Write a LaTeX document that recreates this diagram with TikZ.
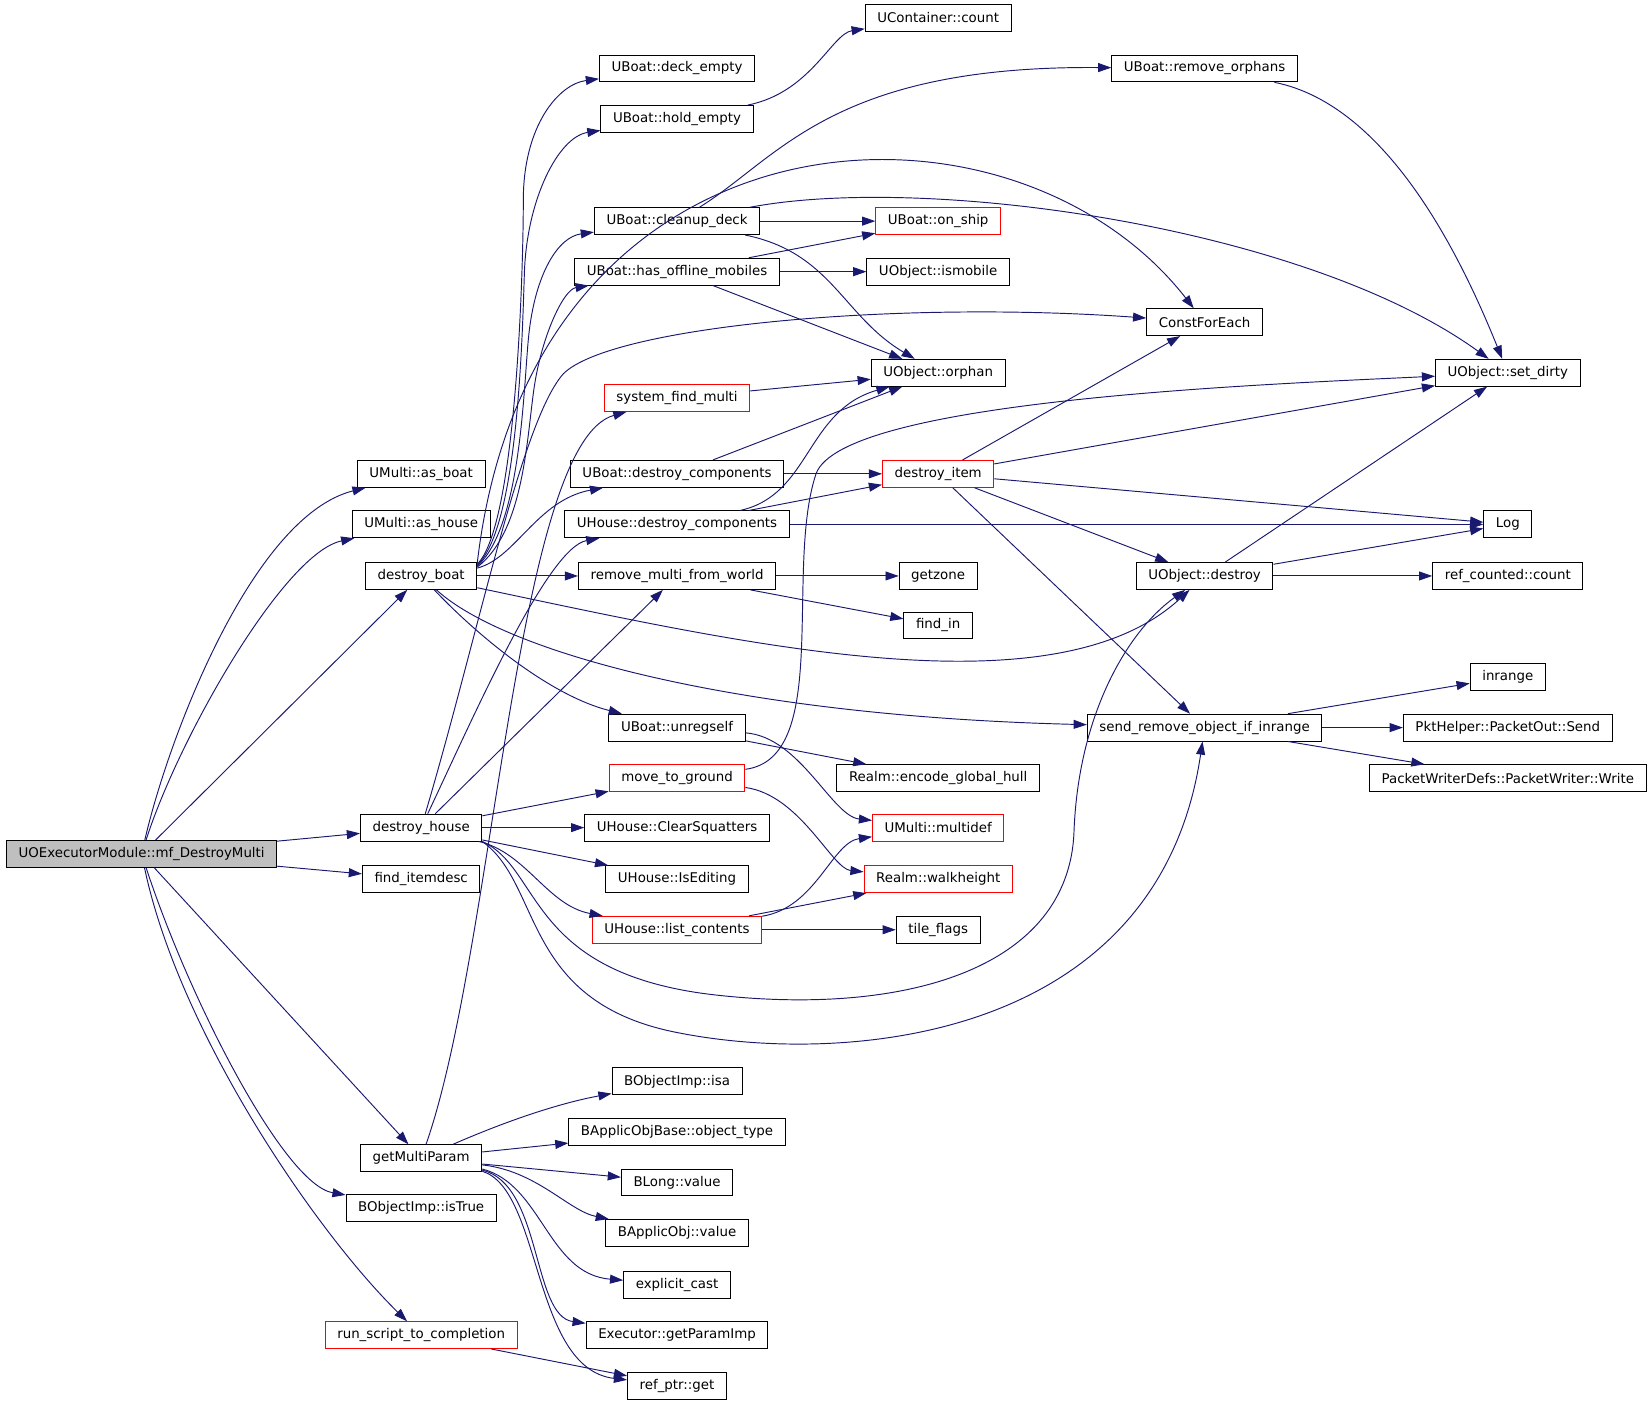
\documentclass[tikz,border=0pt]{standalone}
\usepackage{fontspec}
\setmainfont{DejaVu Sans}
\usetikzlibrary{arrows.meta}

\definecolor{callblue}{HTML}{191970}
\definecolor{rootgray}{HTML}{BFBFBF}

\tikzset{
	fn/.style={draw=black, line width=0.9pt, rectangle, inner xsep=11.5pt, inner ysep=0pt,
		minimum height=25.5pt, font=\fontsize{12.7}{15}\selectfont},
	fnred/.style={fn, draw=red},
	fnroot/.style={fn, fill=rootgray},
	call/.style={color=callblue, line width=0.9pt, -{Triangle[length=12.5pt,width=8.5pt]}},
}

\begin{document}
\begin{tikzpicture}[x=1pt,y=-1pt]
		\useasboundingbox (0,0) rectangle (1568,1334);

		\node[fnroot] (main) at (134.5,811) {UOExecutorModule::mf\_DestroyMulti};

		\node[fn] (asboat) at (400,450) {UMulti::as\_boat};
		\node[fn] (ashouse) at (400,498) {UMulti::as\_house};
		\node[fn] (dboat) at (400,547) {destroy\_boat};
		\node[fn] (dhouse) at (400,786) {destroy\_house};
		\node[fn] (itemdesc) at (400,835) {find\_itemdesc};
		\node[fn] (getparam) at (400,1100) {getMultiParam};
		\node[fn] (istrue) at (400,1147) {BObjectImp::isTrue};
		\node[fnred] (runscript) at (400,1268) {run\_script\_to\_completion};

		\node[fn] (deckempty) at (643,65) {UBoat::deck\_empty};
		\node[fn] (holdempty) at (643,113) {UBoat::hold\_empty};
		\node[fn] (cleanup) at (643,210) {UBoat::cleanup\_deck};
		\node[fn] (offline) at (643,258) {UBoat::has\_offline\_mobiles};
		\node[fnred] (sysfind) at (643,378) {system\_find\_multi};
		\node[fn] (bdestroy) at (643,450) {UBoat::destroy\_components};
		\node[fn] (hdestroy) at (643,498) {UHouse::destroy\_components};
		\node[fn] (rmworld) at (643,547) {remove\_multi\_from\_world};
		\node[fn] (unreg) at (643,691) {UBoat::unregself};
		\node[fnred] (mground) at (643,739) {move\_to\_ground};
		\node[fn] (squatters) at (643,786) {UHouse::ClearSquatters};
		\node[fn] (isediting) at (643,835) {UHouse::IsEditing};
		\node[fnred] (listc) at (643,883) {UHouse::list\_contents};
		\node[fn] (isa) at (643,1027) {BObjectImp::isa};
		\node[fn] (objtype) at (643,1075) {BApplicObjBase::object\_type};
		\node[fn] (blong) at (643,1123) {BLong::value};
		\node[fn] (bapplic) at (643,1171) {BApplicObj::value};
		\node[fn] (ecast) at (643,1220) {explicit\_cast};
		\node[fn] (getimp) at (643,1268) {Executor::getParamImp};
		\node[fn] (refget) at (643,1316) {ref\_ptr::get};

		\node[fn] (ccount) at (891,17) {UContainer::count};
		\node[fnred] (onship) at (891,210) {UBoat::on\_ship};
		\node[fn] (ismobile) at (891,258) {UObject::ismobile};
		\node[fn] (orphan) at (891,354) {UObject::orphan};
		\node[fnred] (ditem) at (891,450) {destroy\_item};
		\node[fn] (getzone) at (891,547) {getzone};
		\node[fn] (findin) at (891,594) {find\_in};
		\node[fn] (hull) at (891,739) {Realm::encode\_global\_hull};
		\node[fnred] (multidef) at (891,786) {UMulti::multidef};
		\node[fnred] (walkh) at (891,835) {Realm::walkheight};
		\node[fn] (tileflags) at (891,883) {tile\_flags};

		\node[fn] (rmorphans) at (1144,65) {UBoat::remove\_orphans};
		\node[fn] (cfe) at (1144,306) {ConstForEach};
		\node[fn] (odestroy) at (1144,547) {UObject::destroy};
		\node[fn] (sendrm) at (1144,691) {send\_remove\_object\_if\_inrange};

		\node[fn] (setdirty) at (1432,354) {UObject::set\_dirty};
		\node[fn] (log) at (1432,498) {Log};
		\node[fn] (rccount) at (1432,547) {ref\_counted::count};
		\node[fn] (inrange) at (1432,643) {inrange};
		\node[fn] (send) at (1432,691) {PktHelper::PacketOut::Send};
		\node[fn] (write) at (1432,739) {PacketWriterDefs::PacketWriter::Write};

		\draw [call] (main) .. controls (160,700) and (240,490) .. (asboat);
		\draw [call] (main) .. controls (170,700) and (270,525) .. (ashouse);
		\path [call] (main) edge (dboat);
		\path [call] (main) edge (dhouse);
		\path [call] (main) edge (itemdesc);
		\path [call] (main) edge (getparam);
		\draw [call] (main) .. controls (180,950) and (270,1125) .. (istrue);
		\draw [call] (main) .. controls (170,980) and (300,1170) .. (runscript);

		\draw [call] (dboat.12) .. controls (490,500) and (497,260) .. (497,190)
			.. controls (497,120) and (530,80) .. (deckempty);
		\draw [call] (dboat.11) .. controls (492,500) and (496,320) .. (498,260)
			.. controls (500,190) and (530,130) .. (holdempty);
		\draw [call] (dboat.10) .. controls (495,500) and (497,370) .. (502,320)
			.. controls (508,260) and (530,225) .. (cleanup);
		\draw [call] (dboat.9) .. controls (497,505) and (500,420) .. (507,370)
			.. controls (514,320) and (535,275) .. (offline);
		\draw [call] (dboat.8) .. controls (490,530) and (510,475) .. (bdestroy);
		\draw [call] (dboat.13) .. controls (505,90) and (960,70) .. (cfe);
		\path [call] (dboat) edge (rmworld);
		\draw [call] (dboat) .. controls (450,600) and (520,660) .. (unreg);
		\draw [call] (dboat) .. controls (700,610) and (1000,680) .. (odestroy);
		\draw [call] (dboat) .. controls (480,620) and (700,680) .. (sendrm);

		\draw [call] (dhouse) .. controls (450,680) and (520,520) .. (hdestroy);
		\draw [call] (dhouse) .. controls (455,600) and (495,400) .. (535,355)
			.. controls (580,310) and (850,285) .. (cfe);
		\path [call] (dhouse) edge (rmworld);
		\path [call] (dhouse) edge (mground);
		\path [call] (dhouse) edge (squatters);
		\path [call] (dhouse) edge (isediting);
		\draw [call] (dhouse) .. controls (500,810) and (520,860) .. (listc);
		\draw [call] (dhouse.south east) .. controls (515,825) and (500,925) .. (680,945)
			.. controls (860,965) and (1015,920) .. (1020,790)
			.. controls (1024,680) and (1070,600) .. (odestroy);
		\draw [call] (dhouse.south east) .. controls (515,840) and (495,950) .. (640,980)
			.. controls (800,1013) and (1100,990) .. (sendrm);

		\draw [call] (getparam) .. controls (470,900) and (490,420) .. (sysfind);
		\draw [call] (getparam) .. controls (480,1065) and (530,1048) .. (isa);
		\path [call] (getparam) edge (objtype);
		\path [call] (getparam) edge (blong);
		\draw [call] (getparam) .. controls (510,1112) and (540,1150) .. (bapplic);
		\draw [call] (getparam.-10) .. controls (515,1125) and (520,1210) .. (ecast);
		\draw [call] (getparam.-11) .. controls (515,1125) and (505,1250) .. (getimp);
		\draw [call] (getparam.-12) .. controls (515,1130) and (505,1300) .. (refget);
		\path [call] (runscript) edge (refget);

		\draw [call] (holdempty) .. controls (770,88) and (790,32) .. (ccount);
		\draw [call] (cleanup) .. controls (740,150) and (790,62) .. (rmorphans);
		\draw [call] (cleanup) .. controls (880,165) and (1240,215) .. (setdirty);
		\path [call] (cleanup) edge (onship);
		\draw [call] (cleanup) .. controls (790,240) and (800,300) .. (orphan);
		\path [call] (offline) edge (onship);
		\path [call] (offline) edge (ismobile);
		\path [call] (offline) edge (orphan);
		\path [call] (sysfind) edge (orphan);
		\path [call] (bdestroy) edge (orphan);
		\path [call] (bdestroy) edge (ditem);
		\path [call] (hdestroy) edge (ditem);
		\draw [call] (hdestroy) .. controls (770,470) and (765,390) .. (orphan);
		\path [call] (hdestroy) edge (log);
		\path [call] (rmworld) edge (getzone);
		\path [call] (rmworld) edge (findin);
		\path [call] (unreg) edge (hull);
		\draw [call] (unreg) .. controls (760,700) and (790,775) .. (multidef);
		\draw [call] (mground) .. controls (760,755) and (790,825) .. (walkh);
		\draw [call] (mground) .. controls (790,720) and (745,540) .. (775,450)
			.. controls (800,380) and (1200,365) .. (setdirty);
		\draw [call] (listc) .. controls (775,862) and (790,800) .. (multidef);
		\path [call] (listc) edge (walkh);
		\path [call] (listc) edge (tileflags);

		\path [call] (ditem) edge (cfe);
		\path [call] (ditem) edge (setdirty);
		\path [call] (ditem) edge (log);
		\path [call] (ditem) edge (odestroy);
		\path [call] (ditem) edge (sendrm);
		\draw [call] (rmorphans) .. controls (1320,100) and (1390,250) .. (setdirty);
		\path [call] (odestroy) edge (setdirty);
		\path [call] (odestroy) edge (log);
		\path [call] (odestroy) edge (rccount);
		\path [call] (sendrm) edge (inrange);
		\path [call] (sendrm) edge (send);
		\path [call] (sendrm) edge (write);
	\end{tikzpicture}
\end{document}
